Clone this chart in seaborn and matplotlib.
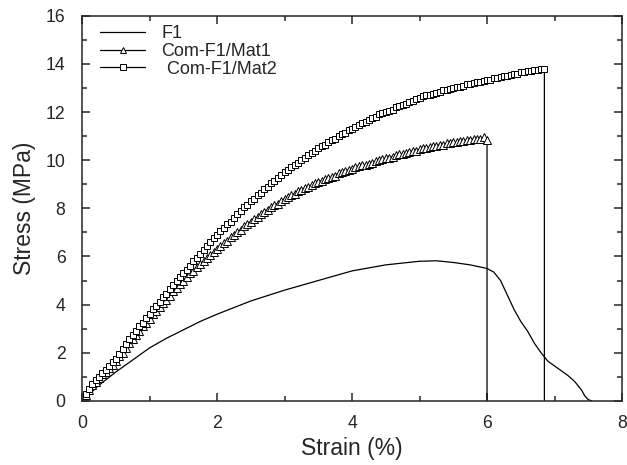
import numpy as np
import pandas as pd
import matplotlib
matplotlib.use("Agg")
import matplotlib.pyplot as plt
import seaborn as sns
from matplotlib.ticker import MultipleLocator

# F1 (plain line)
f1_strain = [0, 0.25, 0.5, 0.75, 1.0, 1.25, 1.5, 1.75, 2.0, 2.5, 3.0, 3.5, 4.0, 4.5,
             5.0, 5.25, 5.5, 5.75, 6.0, 6.1, 6.2, 6.3, 6.4, 6.5, 6.6, 6.7, 6.8, 6.9,
             7.0, 7.1, 7.2, 7.3, 7.4, 7.45, 7.5, 7.55]
f1_stress = [0, 0.65, 1.2, 1.7, 2.2, 2.6, 2.95, 3.3, 3.6, 4.15, 4.6, 5.0, 5.4, 5.65,
             5.8, 5.82, 5.75, 5.65, 5.5, 5.35, 5.0, 4.4, 3.8, 3.3, 2.9, 2.4, 2.0, 1.65,
             1.45, 1.25, 1.05, 0.8, 0.45, 0.2, 0.05, 0.0]

# Com-F1/Mat1, read every 0.05 % strain
mat1_stress = [
    0.25, 0.45, 0.65, 0.8, 0.95, 1.1, 1.2, 1.35, 1.5, 1.65,
    1.85, 2.0, 2.2, 2.4, 2.55, 2.75, 2.9, 3.1, 3.25, 3.4,
    3.6, 3.75, 3.9, 4.05, 4.2, 4.35, 4.55, 4.7, 4.85, 5.0,
    5.15, 5.3, 5.4, 5.55, 5.7, 5.8, 5.95, 6.05, 6.2, 6.3,
    6.45, 6.55, 6.65, 6.8, 6.9, 7.0, 7.1, 7.25, 7.35, 7.45,
    7.55, 7.65, 7.75, 7.85, 7.95, 8.05, 8.15, 8.2, 8.3, 8.4,
    8.45, 8.55, 8.6, 8.7, 8.75, 8.85, 8.9, 8.95, 9.05, 9.1,
    9.15, 9.2, 9.25, 9.3, 9.35, 9.45, 9.5, 9.55, 9.6, 9.65,
    9.7, 9.75, 9.8, 9.8, 9.85, 9.9, 9.95, 10.0, 10.05, 10.1,
    10.1, 10.15, 10.2, 10.25, 10.25, 10.3, 10.35, 10.4, 10.4, 10.45,
    10.5, 10.5, 10.55, 10.6, 10.6, 10.65, 10.65, 10.7, 10.7, 10.75,
    10.75, 10.8, 10.8, 10.85, 10.85, 10.9, 10.9, 10.9, 10.95, 10.85]

# Com-F1/Mat2, read every 0.05 % strain
mat2_stress = [
    0.3, 0.5, 0.7, 0.85, 1.0, 1.15, 1.3, 1.45, 1.6, 1.75,
    1.95, 2.15, 2.35, 2.55, 2.75, 2.9, 3.1, 3.25, 3.45, 3.6,
    3.8, 3.95, 4.1, 4.3, 4.45, 4.65, 4.8, 5.0, 5.15, 5.3,
    5.45, 5.6, 5.8, 5.95, 6.1, 6.25, 6.45, 6.6, 6.75, 6.9,
    7.05, 7.2, 7.35, 7.45, 7.6, 7.75, 7.9, 8.05, 8.15, 8.3,
    8.4, 8.55, 8.65, 8.8, 8.9, 9.05, 9.15, 9.25, 9.4, 9.5,
    9.6, 9.7, 9.8, 9.9, 10.0, 10.1, 10.2, 10.3, 10.4, 10.5,
    10.6, 10.65, 10.75, 10.85, 10.9, 11.0, 11.1, 11.15, 11.25, 11.3,
    11.4, 11.45, 11.55, 11.6, 11.65, 11.75, 11.8, 11.9, 11.95, 12.0,
    12.05, 12.1, 12.2, 12.25, 12.3, 12.35, 12.4, 12.45, 12.55, 12.6,
    12.65, 12.7, 12.7, 12.75, 12.8, 12.85, 12.9, 12.9, 12.95, 13.0,
    13.05, 13.05, 13.1, 13.15, 13.15, 13.2, 13.25, 13.25, 13.3, 13.35,
    13.35, 13.4, 13.4, 13.45, 13.5, 13.5, 13.55, 13.6, 13.6, 13.65,
    13.65, 13.7, 13.7, 13.75, 13.75, 13.8, 13.8]

step = 0.05
mat1_strain = np.round(np.arange(1, len(mat1_stress) + 1) * step, 2)
mat2_strain = np.round(np.arange(1, len(mat2_stress) + 1) * step, 2)

# after the last point each sample breaks: stress falls to zero at the same strain
mat1 = pd.DataFrame({"strain": list(mat1_strain) + [mat1_strain[-1]],
                     "stress": mat1_stress + [0.0]})
mat2 = pd.DataFrame({"strain": list(mat2_strain) + [mat2_strain[-1]],
                     "stress": mat2_stress + [0.0]})
f1 = pd.DataFrame({"strain": f1_strain, "stress": f1_stress})

sns.set_style("ticks")
plt.rcParams["font.family"] = ["Liberation Sans", "DejaVu Sans"]

fig, ax = plt.subplots(figsize=(6.27, 4.65), dpi=100)
fig.subplots_adjust(left=0.131, right=0.992, top=0.966, bottom=0.138)

sns.lineplot(data=f1, x="strain", y="stress", ax=ax, sort=False, estimator=None,
             color="black", lw=0.9, label="F1")
sns.lineplot(data=mat1, x="strain", y="stress", ax=ax, sort=False, estimator=None,
             color="black", lw=0.9, marker="^", markersize=6, mfc="white",
             mec="black", mew=0.7, markevery=slice(0, len(mat1) - 1),
             label="Com-F1/Mat1")
sns.lineplot(data=mat2, x="strain", y="stress", ax=ax, sort=False, estimator=None,
             color="black", lw=0.9, marker="s", markersize=5, mfc="white",
             mec="black", mew=0.7, markevery=slice(0, len(mat2) - 1),
             label=" Com-F1/Mat2")

ax.set_xlim(0, 8)
ax.set_ylim(0, 16)
ax.xaxis.set_major_locator(MultipleLocator(2))
ax.xaxis.set_minor_locator(MultipleLocator(1))
ax.yaxis.set_major_locator(MultipleLocator(2))
ax.yaxis.set_minor_locator(MultipleLocator(1))
ax.tick_params(which="both", direction="in", top=True, right=True, labelsize=12.7,
               width=1.1)
ax.tick_params(which="major", length=6)
ax.tick_params(which="minor", length=3.5)
ax.tick_params(axis="x", which="major", pad=10)
ax.tick_params(axis="y", which="major", pad=12)
for s in ax.spines.values():
    s.set_linewidth(1.1)

ax.set_xlabel("Strain (%)", fontsize=16.5, labelpad=4)
ax.set_ylabel("Stress (MPa)", fontsize=16.5, labelpad=7)

leg = ax.legend(loc="upper left", bbox_to_anchor=(0.02, 0.995), frameon=False,
                fontsize=13, handlelength=2.5, handletextpad=0.9,
                borderaxespad=0, labelspacing=0.05)
for h in leg.legend_handles:
    h.set_markersize(4)

fig.savefig("out.png", dpi=100)
